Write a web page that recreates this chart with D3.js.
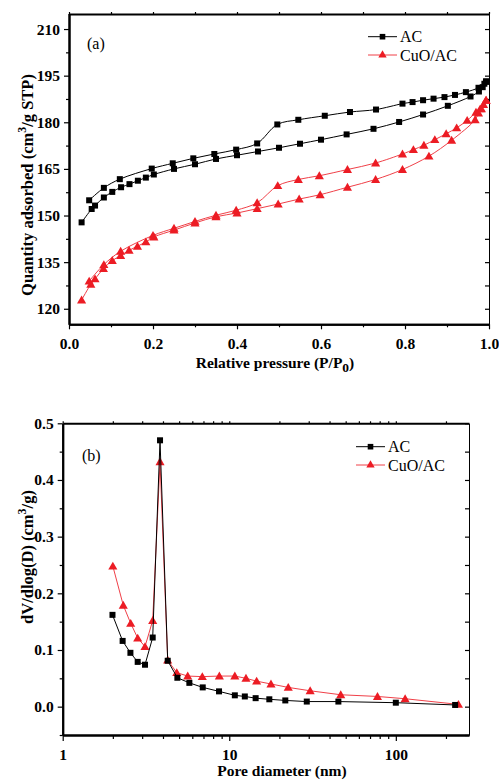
<!DOCTYPE html>
<html>
<head>
<meta charset="utf-8">
<script src="https://cdn.jsdelivr.net/npm/d3@7"></script>
<style>
  html, body { margin: 0; padding: 0; background: #fff; }
  svg { display: block; }
  text { font-family: "Liberation Serif", "Times New Roman", serif; fill: #000; }
</style>
</head>
<body>
<svg id="fig" width="499" height="780"></svg>
<script>
// ---- (a) N2 adsorption–desorption isotherms ----
const acAdsP = [0.030,0.054,0.062,0.083,0.103,0.124,0.144,0.164,0.183,0.202,0.250,0.300,0.350,0.400,0.450,0.500,0.550,0.600,0.661,0.725,0.786,0.843,0.902,0.956,0.976,0.985,0.993];
const acAdsV = [147.8,152.1,153.2,155.8,157.6,159.1,160.1,161.2,162.2,163.2,165.0,166.5,168.2,169.4,170.6,171.8,173.1,174.4,176.1,177.9,180.1,182.5,185.3,188.3,189.9,191.3,193.0];
const acDesP = [0.993,0.989,0.975,0.945,0.919,0.894,0.868,0.843,0.818,0.794,0.731,0.669,0.609,0.546,0.496,0.448,0.398,0.346,0.296,0.247,0.197,0.121,0.083,0.048];
const acDesV = [193.2,192.4,191.1,189.7,188.8,188.1,187.6,187.1,186.5,186.0,184.1,183.3,182.1,180.8,179.3,173.2,171.2,169.8,168.4,166.8,165.1,161.7,158.9,154.9];

const cuoAdsP = [0.030,0.052,0.062,0.082,0.103,0.123,0.143,0.163,0.183,0.202,0.250,0.300,0.350,0.400,0.448,0.498,0.548,0.598,0.663,0.730,0.794,0.857,0.911,0.967,0.975,0.982,0.993];
const cuoAdsV = [122.8,127.9,129.6,132.9,135.5,137.1,138.8,140.1,141.5,143.1,145.3,147.6,149.6,150.8,152.2,153.7,155.3,156.7,159.1,161.6,164.8,169.1,174.2,180.8,183.0,184.3,187.1];
const cuoDesP = [0.993,0.987,0.979,0.969,0.948,0.923,0.898,0.871,0.845,0.820,0.794,0.730,0.663,0.596,0.546,0.497,0.448,0.398,0.350,0.300,0.250,0.200,0.123,0.083,0.048];
const cuoDesV = [187.1,185.7,184.3,183.2,180.6,178.2,176.3,174.4,172.6,171.2,169.8,166.9,164.8,162.8,161.6,159.6,154.1,151.7,150.1,148.1,145.9,143.6,138.5,134.2,128.9];

const isoXTicks = [0, 0.2, 0.4, 0.6, 0.8, 1.0];
const isoYTicks = [120, 135, 150, 165, 180, 195, 210];

// ---- (b) pore size distribution ----
const acPoreD = [1.99,2.29,2.55,2.82,3.12,3.47,3.84,4.27,4.88,5.76,6.93,8.68,10.8,12.4,14.4,17.4,21.7,29.2,45.2,100,227];
const acPoreV = [0.162,0.116,0.095,0.079,0.074,0.122,0.470,0.081,0.051,0.042,0.034,0.027,0.020,0.018,0.015,0.013,0.011,0.009,0.009,0.007,0.003];
const cuoPoreD = [2.0,2.31,2.56,2.82,3.12,3.47,3.84,4.27,4.84,5.63,6.89,8.72,10.8,12.6,14.6,17.8,22.6,30.6,46.7,77.6,113.7,237.7];
const cuoPoreV = [0.248,0.179,0.147,0.121,0.106,0.152,0.432,0.082,0.060,0.054,0.053,0.054,0.054,0.050,0.045,0.040,0.034,0.028,0.021,0.018,0.014,0.004];

const poreXTicks = [1, 10, 100];
const poreYTicks = [0.0, 0.1, 0.2, 0.3, 0.4, 0.5];

const seriesNames = ["AC", "CuO/AC"];
const BLACK = "#000";
const RED = "#ec1c24";
const RED_LINE = "#f04048";
const TICK_FONT = 15.5;

const svg = d3.select("#fig");
svg.append("rect").attr("width", 499).attr("height", 780).attr("fill", "#fff");

const zip = (xs, ys) => xs.map((x, i) => [x, ys[i]]);

function squareMarks(g, pts, x, y, s) {
  g.selectAll(null).data(pts).join("rect")
    .attr("x", d => x(d[0]) - s / 2).attr("y", d => y(d[1]) - s / 2)
    .attr("width", s).attr("height", s).attr("fill", BLACK);
}
const triSym = (size) => d3.symbol().type(d3.symbolTriangle).size(size);
function triangleMarks(g, pts, x, y, size) {
  g.selectAll(null).data(pts).join("path")
    .attr("d", triSym(size))
    .attr("transform", d => `translate(${x(d[0])},${y(d[1]) + 0.8})`)
    .attr("fill", RED);
}

function styleAxis(g, width) {
  g.select(".domain").attr("stroke", "#000").attr("stroke-width", width);
  g.selectAll(".tick line").attr("stroke", "#000").attr("stroke-width", 1.2);
  g.selectAll("text").attr("font-family", "Liberation Serif, serif")
    .attr("font-weight", "bold").attr("font-size", TICK_FONT).attr("fill", "#000");
}

function legend(g, x0, y0, gap, lineColors) {
  seriesNames.forEach((name, i) => {
    const yy = y0 + i * gap;
    g.append("line").attr("x1", x0).attr("x2", x0 + 29).attr("y1", yy).attr("y2", yy)
      .attr("stroke", lineColors[i]).attr("stroke-width", 1);
    if (i === 0) {
      g.append("rect").attr("x", x0 + 14.5 - 2.8).attr("y", yy - 2.8)
        .attr("width", 5.6).attr("height", 5.6).attr("fill", BLACK);
    } else {
      g.append("path").attr("d", triSym(30)).attr("fill", RED)
        .attr("transform", `translate(${x0 + 14.5},${yy})`);
    }
    g.append("text").attr("x", x0 + 32).attr("y", yy + 5.5)
      .attr("font-size", 16).text(name);
  });
}

// ================= panel (a) =================
{
  const L = 69, R = 489, T = 14, B = 324.3;
  const x = d3.scaleLinear().domain([0, 1]).range([L, R]);
  const y = d3.scaleLinear().domain([115, 215]).range([B, T - 0.5]);
  const g = svg.append("g");

  // minor ticks
  g.append("g").attr("transform", `translate(0,${B})`)
    .call(d3.axisBottom(x).tickValues([0.1, 0.3, 0.5, 0.7, 0.9]).tickSize(3).tickFormat("").tickSizeOuter(0))
    .call(a => styleAxis(a, 2));
  g.append("g").attr("transform", `translate(${L},0)`)
    .call(d3.axisLeft(y).tickValues(d3.range(127.5, 210, 15)).tickSize(3).tickFormat("").tickSizeOuter(0))
    .call(a => styleAxis(a, 2));
  // major ticks + labels
  g.append("g").attr("transform", `translate(0,${B})`)
    .call(d3.axisBottom(x).tickValues(isoXTicks).tickSize(5).tickPadding(9).tickFormat(d3.format(".1f")).tickSizeOuter(0))
    .call(a => styleAxis(a, 2));
  g.append("g").attr("transform", `translate(${L},0)`)
    .call(d3.axisLeft(y).tickValues(isoYTicks).tickSize(5).tickPadding(4).tickFormat(d3.format("d")).tickSizeOuter(0))
    .call(a => styleAxis(a, 2));
  g.append("g").attr("transform", `translate(0,${T})`)
    .call(d3.axisTop(x).tickValues(d3.range(0, 1.01, 0.1)).tickSize(2).tickFormat("").tickSizeOuter(0))
    .call(a => styleAxis(a, 2));
  g.append("g").attr("transform", `translate(${R},0)`)
    .call(d3.axisRight(y).tickValues(d3.range(120, 211, 7.5)).tickSize(-4).tickFormat("").tickSizeOuter(0))
    .call(a => styleAxis(a, 1));

  const line = d3.line().x(d => x(d[0])).y(d => y(d[1])).curve(d3.curveCatmullRom.alpha(0.5));
  const acA = zip(acAdsP, acAdsV), acD = zip(acDesP, acDesV);
  const cuA = zip(cuoAdsP, cuoAdsV), cuD = zip(cuoDesP, cuoDesV);

  [acA, acD].forEach(p => g.append("path").attr("d", line(p)).attr("fill", "none").attr("stroke", BLACK).attr("stroke-width", 1));
  [cuA, cuD].forEach(p => g.append("path").attr("d", line(p)).attr("fill", "none").attr("stroke", RED_LINE).attr("stroke-width", 1));
  squareMarks(g.append("g"), acA.concat(acD), x, y, 6);
  triangleMarks(g.append("g"), cuA.concat(cuD), x, y, 36);

  g.append("text").attr("x", 87).attr("y", 49).attr("font-size", 16).text("(a)");
  legend(g, 368, 36.7, 18.3, [BLACK, RED_LINE]);

  const xl = g.append("text").attr("x", 275).attr("y", 368).attr("text-anchor", "middle")
    .attr("font-weight", "bold").attr("font-size", 15.5);
  xl.append("tspan").text("Relative pressure (P/P");
  xl.append("tspan").attr("dy", 4).attr("font-size", 13.5).text("0");
  xl.append("tspan").attr("dy", -4).text(")");

  const yl = g.append("text").attr("transform", "translate(33,185) rotate(-90)")
    .attr("text-anchor", "middle").attr("font-weight", "bold").attr("font-size", 16.5);
  yl.append("tspan").text("Quantity adsorbed (cm");
  yl.append("tspan").attr("dy", -7).attr("font-size", 12).text("3");
  yl.append("tspan").attr("dy", 7).text("/g STP)");
}

// ================= panel (b) =================
{
  const L = 62.7, R = 469, T = 423.3, B = 735;
  const x = d3.scaleLog().domain([1, 275]).range([L, R]);
  const y = d3.scaleLinear().domain([-0.05, 0.5]).range([B, T]);
  const g = svg.append("g");

  const minorX = [];
  [1, 10, 100].forEach(dec => { for (let k = 2; k <= 9; k++) if (dec * k <= 275) minorX.push(dec * k); });

  g.append("g").attr("transform", `translate(0,${B})`)
    .call(d3.axisBottom(x).tickValues(minorX).tickSize(4).tickFormat("").tickSizeOuter(0))
    .call(a => styleAxis(a, 2));
  g.append("g").attr("transform", `translate(0,${B})`)
    .call(d3.axisBottom(x).tickValues(poreXTicks).tickSize(6).tickPadding(8).tickFormat(d3.format("d")).tickSizeOuter(0))
    .call(a => styleAxis(a, 2));
  g.append("g").attr("transform", `translate(${L},0)`)
    .call(d3.axisLeft(y).tickValues([-0.05, 0.05, 0.15, 0.25, 0.35, 0.45]).tickSize(3).tickFormat("").tickSizeOuter(0))
    .call(a => styleAxis(a, 2));
  g.append("g").attr("transform", `translate(${L},0)`)
    .call(d3.axisLeft(y).tickValues(poreYTicks).tickSize(5).tickPadding(4).tickFormat(d3.format(".1f")).tickSizeOuter(0))
    .call(a => styleAxis(a, 2));
  g.append("g").attr("transform", `translate(0,${T})`)
    .call(d3.axisTop(x).tickValues(poreXTicks.concat(minorX)).tickSize(2).tickFormat("").tickSizeOuter(0))
    .call(a => styleAxis(a, 2));
  g.append("g").attr("transform", `translate(${R},0)`)
    .call(d3.axisRight(y).tickValues(d3.range(-0.05, 0.51, 0.05)).tickSize(-4).tickFormat("").tickSizeOuter(0))
    .call(a => styleAxis(a, 1));

  const line = d3.line().x(d => x(d[0])).y(d => y(d[1]));
  const ac = zip(acPoreD, acPoreV), cu = zip(cuoPoreD, cuoPoreV);

  g.append("path").attr("d", line(cu)).attr("fill", "none").attr("stroke", RED_LINE).attr("stroke-width", 1);
  triangleMarks(g.append("g"), cu, x, y, 36);
  g.append("path").attr("d", line(ac)).attr("fill", "none").attr("stroke", BLACK).attr("stroke-width", 1);
  squareMarks(g.append("g"), ac, x, y, 6);

  g.append("text").attr("x", 82).attr("y", 461).attr("font-size", 16).text("(b)");
  legend(g, 356, 446.7, 18.3, [BLACK, RED_LINE]);

  g.append("text").attr("x", 282).attr("y", 776).attr("text-anchor", "middle")
    .attr("font-weight", "bold").attr("font-size", 15.5).text("Pore diameter (nm)");

  const yl = g.append("text").attr("transform", "translate(33,557) rotate(-90)")
    .attr("text-anchor", "middle").attr("font-weight", "bold").attr("font-size", 16.5);
  yl.append("tspan").text("dV/dlog(D) (cm");
  yl.append("tspan").attr("dy", -7).attr("font-size", 12).text("3");
  yl.append("tspan").attr("dy", 7).text("/g)");
}
</script>
</body>
</html>
